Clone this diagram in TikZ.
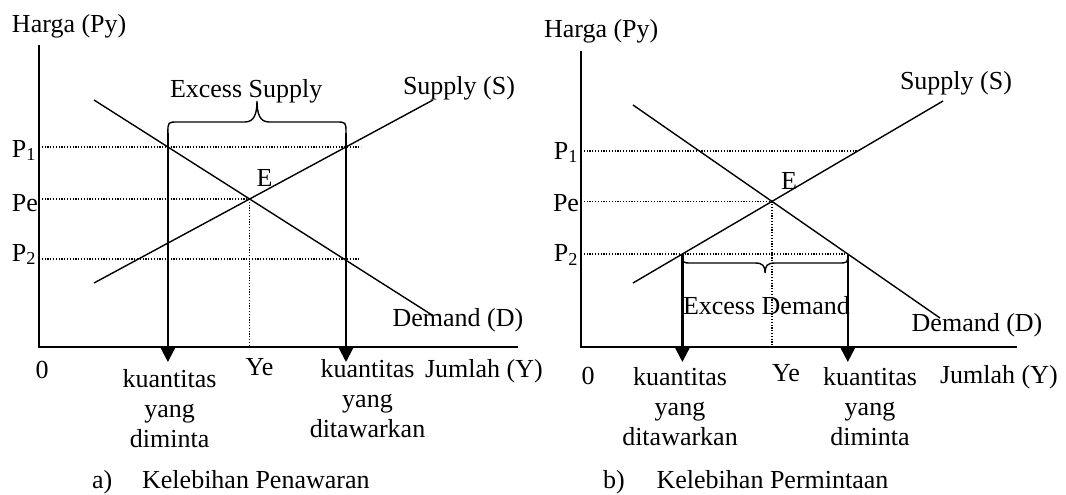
\documentclass[tikz,border=0pt]{standalone}
\usepackage{fontspec}
\setmainfont{Liberation Serif}
\usetikzlibrary{arrows.meta}
\tikzset{
  lbl/.style={font=\fontsize{26}{30}\selectfont, inner sep=0pt, outer sep=0pt},
  axisline/.style={line width=2pt, line join=miter},
  curveline/.style={line width=1.4pt},
  guide/.style={line width=1.2pt, dash pattern=on 1.2pt off 1.6pt},
  qarrow/.style={line width=2.2pt, -{Triangle[length=15pt,width=15pt]}},
  bracepath/.style={line width=1.4pt}
}
\begin{document}
\begin{tikzpicture}[x=1pt,y=-1pt]
\useasboundingbox (0,0) rectangle (1066,495);
% ================= LEFT PANEL =================
\coordinate (LyTop) at (39,45);
\coordinate (LO) at (39,347);
\coordinate (LxEnd) at (518,347);
\coordinate (LD1) at (94,100);
\coordinate (LD2) at (432,315);
\coordinate (LS1) at (94,283);
\coordinate (LS2) at (433,100);
\coordinate (LE) at (249.6,199);
\coordinate (LP1) at (39,147);
\coordinate (LP1end) at (361,147);
\coordinate (LPe) at (39,199);
\coordinate (LP2) at (39,259);
\coordinate (LP2end) at (360,259);
\coordinate (LYe) at (249.6,347);
\coordinate (LQdTop) at (167.9,133);
\coordinate (LQsTop) at (346,133);
\coordinate (LQdTip) at (167.9,362);
\coordinate (LQsTip) at (346,362);

\draw[guide] (LP1) -- (LP1end);
\draw[guide] (LPe) -- (LE);
\draw[guide] (LP2) -- (LP2end);
\draw[guide] (LE) -- (LYe);
\draw[curveline] (LD1) -- (LD2);
\draw[curveline] (LS1) -- (LS2);
\draw[axisline] (LyTop) -- (LO) -- (LxEnd);
\draw[qarrow] (LQdTop) -- (LQdTip);
\draw[qarrow] (LQsTop) -- (LQsTip);
\draw[bracepath] (LQdTop) .. controls (167.9,122) .. (178,122) -- (245,122)
  .. controls (254,122) and (257,114) .. (257,101)
  .. controls (257,114) and (260,122) .. (269,122) -- (336,122)
  .. controls (346,122) .. (LQsTop);

\node[lbl, anchor=base west] (LHarga) at (12,32.5) {Harga (Py)};
\node[lbl, anchor=base west] (LSupply) at (403,94.5) {Supply (S)};
\node[lbl, anchor=base west] (LExcess) at (170,97) {Excess Supply};
\node[lbl, anchor=base east] (LP1lbl) at (36,157) {P\textsubscript{1}};
\node[lbl, anchor=base east] (LPelbl) at (38,211) {Pe};
\node[lbl, anchor=base east] (LP2lbl) at (36,261) {P\textsubscript{2}};
\node[lbl, anchor=base west] (LElbl) at (256.5,186) {E};
\node[lbl, anchor=base west] (LDemand) at (392.6,326.5) {Demand (D)};
\node[lbl, anchor=base] (LZero) at (42,378) {0};
\node[lbl, anchor=north, align=center] (LQdl) at (169.6,369) {kuantitas\\yang\\diminta};
\node[lbl, anchor=base] (LYel) at (259.5,375) {Ye};
\node[lbl, anchor=north, align=center] (LQsl) at (367.5,359) {kuantitas\\yang\\ditawarkan};
\node[lbl, anchor=base west] (LJumlah) at (425,377) {Jumlah (Y)};
\node[lbl, anchor=base west] (LCap) at (92,488) {a)\hspace{30pt}Kelebihan Penawaran};

% ================= RIGHT PANEL =================
\coordinate (RyTop) at (581,51);
\coordinate (RO) at (581,347);
\coordinate (RxEnd) at (1017,347);
\coordinate (RD1) at (633,105);
\coordinate (RD2) at (940,318);
\coordinate (RS1) at (633,283);
\coordinate (RS2) at (943,101);
\coordinate (RE) at (772,201.4);
\coordinate (RP1) at (581,151);
\coordinate (RP1end) at (857.8,151);
\coordinate (RPe) at (581,201.4);
\coordinate (RP2) at (581,254);
\coordinate (RP2end) at (847.8,254);
\coordinate (RYe) at (772,347);
\coordinate (RQs) at (682.4,254);
\coordinate (RQd) at (847.8,254);
\coordinate (RQsTip) at (682.4,362);
\coordinate (RQdTip) at (847.8,362);

\draw[guide] (RP1) -- (RP1end);
\draw[guide] (RPe) -- (RE);
\draw[guide] (RP2) -- (RP2end);
\draw[guide] (RE) -- (RYe);
\draw[curveline] (RD1) -- (RD2);
\draw[curveline] (RS1) -- (RS2);
\draw[axisline] (RyTop) -- (RO) -- (RxEnd);
\draw[qarrow] (RQs) -- (RQsTip);
\draw[qarrow] (RQd) -- (RQdTip);
\draw[bracepath] (RQs) .. controls (682.4,263) .. (692,263) -- (755,263)
  .. controls (763,263) and (765,266) .. (765.1,273)
  .. controls (765,266) and (767,263) .. (775,263) -- (838,263)
  .. controls (847.8,263) .. (RQd);

\node[lbl, anchor=base west] (RHarga) at (544,38) {Harga (Py)};
\node[lbl, anchor=base west] (RSupply) at (900,89.5) {Supply (S)};
\node[lbl, anchor=base east] (RP1lbl) at (578,159) {P\textsubscript{1}};
\node[lbl, anchor=base east] (RPelbl) at (579,211.5) {Pe};
\node[lbl, anchor=base east] (RP2lbl) at (578,261.5) {P\textsubscript{2}};
\node[lbl, anchor=base west] (RElbl) at (781,189) {E};
\node[lbl, anchor=base west] (RExcess) at (683,314.5) {Excess Demand};
\node[lbl, anchor=base west] (RDemand) at (911.7,331.5) {Demand (D)};
\node[lbl, anchor=base] (RZero) at (588,384) {0};
\node[lbl, anchor=north, align=center] (RQsl) at (680,367) {kuantitas\\yang\\ditawarkan};
\node[lbl, anchor=base] (RYel) at (786,381) {Ye};
\node[lbl, anchor=north, align=center] (RQdl) at (870,367) {kuantitas\\yang\\diminta};
\node[lbl, anchor=base west] (RJumlah) at (940,383) {Jumlah (Y)};
\node[lbl, anchor=base west] (RCap) at (603,488) {b)\hspace{32pt}Kelebihan Permintaan};
\end{tikzpicture}
\end{document}
